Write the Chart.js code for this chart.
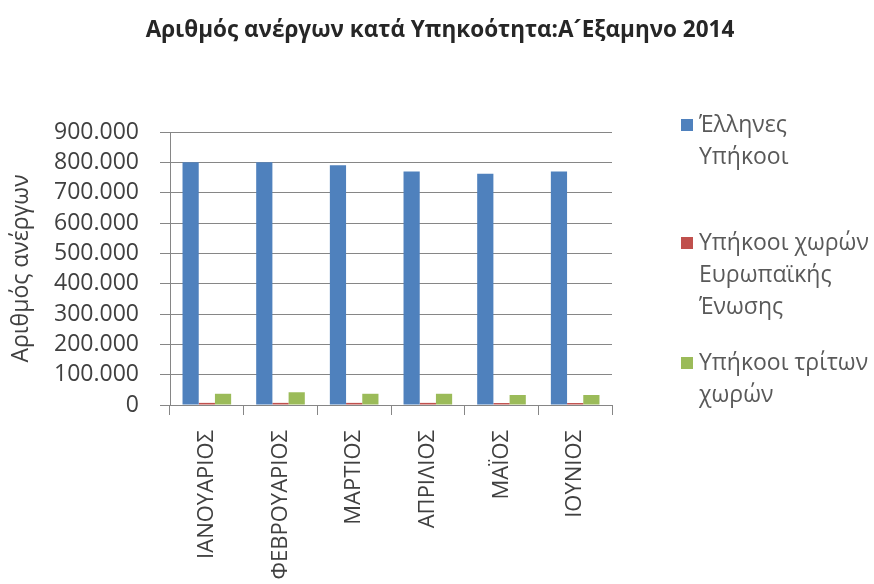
<!DOCTYPE html>
<html>
<head>
<meta charset="utf-8">
<script src="https://cdn.jsdelivr.net/npm/chart.js@4"></script>
<style>
  html, body { margin: 0; padding: 0; background: #fff; overflow: hidden; }
</style>
</head>
<body>
<canvas id="unemployedChart" width="874" height="584"></canvas>
<script>
var chartTitle = 'Αριθμός ανέργων κατά Υπηκοότητα:Α\u00B4Εξαμηνο 2014';
var months = ['ΙΑΝΟΥΑΡΙΟΣ', 'ΦΕΒΡΟΥΑΡΙΟΣ', 'ΜΑΡΤΙΟΣ', 'ΑΠΡΙΛΙΟΣ', 'ΜΑΪΟΣ', 'ΙΟΥΝΙΟΣ'];
var greekCitizens = [800000, 800000, 790000, 770000, 762000, 770000];
var euCitizens = [7000, 7000, 7000, 7000, 6500, 6500];
var thirdCountryCitizens = [37000, 42000, 37000, 37000, 33000, 33000];
// legend text as Excel wrapped it
var seriesNames = [
    ['Έλληνες', 'Υπήκοοι'],
    ['Υπήκοοι χωρών', 'Ευρωπαϊκής', 'Ένωσης'],
    ['Υπήκοοι τρίτων', 'χωρών']
];
var seriesColors = ['#4F81BD', '#C0504D', '#9BBB59'];
var yTicks = [0, 100000, 200000, 300000, 400000, 500000, 600000, 700000, 800000, 900000];

function formatThousands(v) {
    return String(v).replace(/\B(?=(\d{3})+(?!\d))/g, '.');
}

// title + legend drawn by hand: title is centred on the whole canvas,
// legend labels wrap over several lines like in the original
var titleAndLegend = {
    id: 'titleAndLegend',
    afterDraw: function(chart) {
        var ctx = chart.ctx;
        ctx.save();
        ctx.font = 'bold 22.5px "Open Sans"';
        ctx.fillStyle = '#262626';
        ctx.textAlign = 'center';
        ctx.textBaseline = 'alphabetic';
        ctx.fillText(chartTitle, chart.width / 2 + 3, 37);

        var entryTop = [125, 243, 363];
        ctx.font = '23px "Open Sans"';
        ctx.textBaseline = 'middle';
        ctx.textAlign = 'left';
        chart.data.datasets.forEach(function(ds, i) {
            var y = entryTop[i];
            ctx.fillStyle = ds.backgroundColor;
            ctx.fillRect(681, y - 6, 12, 12);
            ctx.fillStyle = '#595959';
            seriesNames[i].forEach(function(line, j) {
                ctx.fillText(line, 699, y + j * 32);
            });
        });
        ctx.restore();
    }
};

var ctx = document.getElementById('unemployedChart').getContext('2d');
var chart = new Chart(ctx, {
    type: 'bar',
    data: {
        labels: months,
        datasets: [
            { label: seriesNames[0].join(' '), data: greekCitizens, backgroundColor: seriesColors[0] },
            { label: seriesNames[1].join(' '), data: euCitizens, backgroundColor: seriesColors[1] },
            { label: seriesNames[2].join(' '), data: thirdCountryCitizens, backgroundColor: seriesColors[2] }
        ]
    },
    options: {
        responsive: false,
        animation: false,
        devicePixelRatio: 1,
        layout: { padding: { left: 0, right: 262, top: 132, bottom: 0 } },
        datasets: { bar: { barPercentage: 1, categoryPercentage: 0.66 } },
        plugins: {
            legend: { display: false },
            tooltip: { enabled: false },
            title: { display: false }
        },
        scales: {
            x: {
                grid: { offset: true, drawOnChartArea: false, color: '#868686', tickLength: 10 },
                border: { color: '#868686' },
                ticks: {
                    minRotation: 90, maxRotation: 90, padding: 15, autoSkip: false,
                    color: '#404040', font: { family: 'Open Sans', size: 22 }
                },
                afterFit: function(scale) { scale.height = 179; }
            },
            y: {
                min: 0,
                max: 900000,
                afterBuildTicks: function(scale) {
                    scale.ticks = yTicks.map(function(v) { return { value: v }; });
                },
                grid: { color: '#868686', tickLength: 10 },
                border: { color: '#868686' },
                ticks: {
                    autoSkip: false,
                    padding: 21, color: '#404040',
                    font: { family: 'Open Sans', size: 23, lineHeight: 1 },
                    callback: function(v) { return formatThousands(v); }
                },
                title: {
                    display: true,
                    text: 'Αριθμός ανέργων',
                    color: '#404040',
                    font: { family: 'Open Sans', size: 23 },
                    padding: { top: 8, bottom: 0 }
                },
                afterFit: function(scale) { scale.width = 170; }
            }
        }
    },
    plugins: [titleAndLegend]
});
</script>
</body>
</html>
